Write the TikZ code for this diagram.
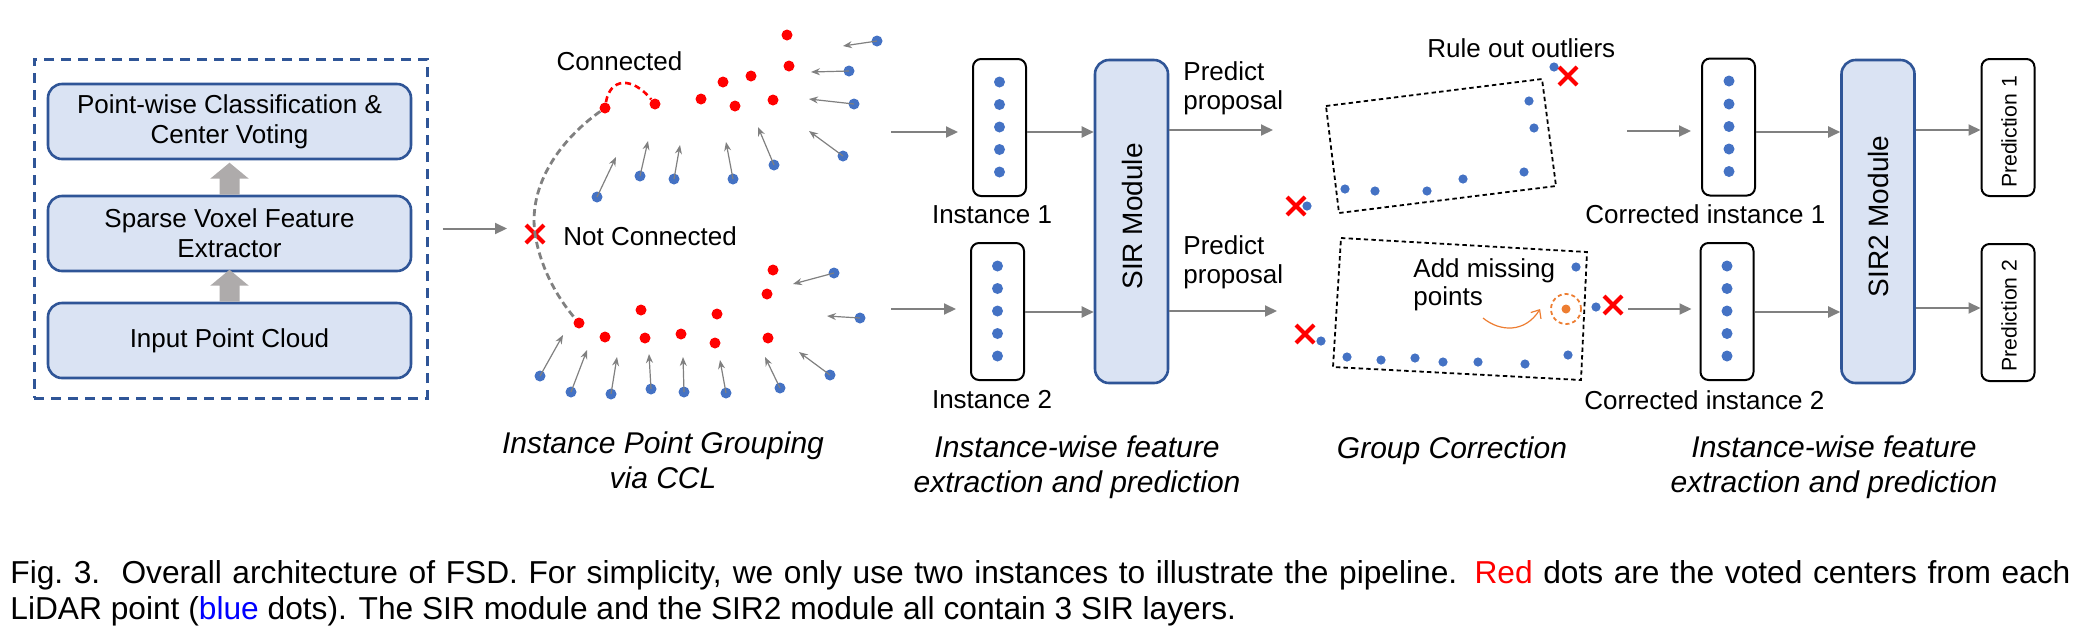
\documentclass[tikz,border=0pt]{standalone}
\usepackage{fontspec}
\setmainfont{Liberation Sans}
\usetikzlibrary{arrows.meta,shapes.misc}
\definecolor{stagefill}{HTML}{DAE3F3}
\definecolor{stageline}{HTML}{2F5597}
\definecolor{liftgray}{HTML}{AEABAB}
\definecolor{flowgray}{HTML}{808080}
\definecolor{ptblue}{HTML}{4472C4}
\definecolor{ptred}{HTML}{FF0000}
\definecolor{fillorange}{HTML}{ED7D31}
\begin{document}
\begin{tikzpicture}[x=0.5pt,y=-0.5pt,
  every node/.style={font=\fontsize{13}{15}\selectfont,inner sep=0pt},
  stage/.style={draw=stageline,fill=stagefill,line width=1.3pt,rounded corners=7pt,
    minimum width=181.5pt,minimum height=37.5pt,align=center},
  module/.style={draw=stageline,fill=stagefill,line width=1.3pt,rounded corners=7pt,
    minimum width=36.5pt,minimum height=161.5pt},
  slot/.style={draw=black,line width=1pt,rounded corners=4pt,minimum width=26.5pt,minimum height=68.5pt},
  bdot/.style={circle,fill=ptblue,minimum size=5.5pt},
  rdot/.style={circle,fill=ptred,minimum size=5.5pt},
  gdot/.style={circle,fill=ptblue,minimum size=4.6pt},
  reject/.style={cross out,draw=ptred,line width=2pt,minimum size=7pt},
  flow/.style={flowgray,line width=1pt,-{Triangle[width=5.5pt,length=6pt]}},
  pull/.style={flowgray,line width=0.6pt,-{Stealth[width=3.5pt,length=4.5pt,inset=1.5pt]}},
  corrbox/.style={draw=black,line width=0.9pt,dash pattern=on 2.2pt off 1.6pt},
  stagelabel/.style={font=\fontsize{15}{17.5}\selectfont\itshape,align=center,anchor=north},
  sidelabel/.style={rotate=90,font=\fontsize{14}{16}\selectfont}]
  \useasboundingbox (0,0) rectangle (2083,634);

  \node[draw=stageline,line width=1.5pt,dash pattern=on 5pt off 3.5pt,
    minimum width=196.5pt,minimum height=169.5pt] (backbone) at (230.5,228.5) {};
  \node[stage] (cloud) at (229.5,340.5) {Input Point Cloud};
  \node[stage] (voxel) at (229.5,233.5) {Sparse Voxel Feature\\Extractor};
  \node[stage] (vote) at (229.5,121.5) {Point-wise Classification \&\\Center Voting};
  \foreach \a in {cloud,voxel} {
    \fill[liftgray] (\a.north) ++(-10,0) -- ++(0,-16) -- ++(-9.3,0) -- ++(19.3,-16)
      -- ++(19.3,16) -- ++(-9.3,0) -- ++(0,16) -- cycle;
  }
  \coordinate (ccl in) at (507,228.5);
  \draw[flow] ([xshift=7pt]backbone.east) -- (ccl in);

  \foreach \x/\y [count=\k] in {787/35,789/66,751/76,723/82,701/99,735/106,773/100,655/104,605/108} {
    \node[rdot] (t\k) at (\x,\y) {};
  }
  \foreach \x/\y/\tx/\ty [count=\k] in {877/41/843/46,849/71/811/72,854/104/809/99,843/156/809/131,
      774/165/758/127,733/179/726/142,674/179/680/145,640/176/648/141,597/197/616/157} {
    \node[bdot] (tu\k) at (\x,\y) {};
    \coordinate (tv\k) at (\tx,\ty);
    \draw[pull] (tu\k.center) -- (tv\k);
  }
  \foreach \x/\y [count=\k] in {773/270,767/294,641/310,717/314,579/323,605/337,645/338,681/334,715/343,768/338} {
    \node[rdot] (b\k) at (\x,\y) {};
  }
  \foreach \x/\y/\tx/\ty [count=\k] in {834/273/793/284,860/318/827/316,830/375/799/352,780/388/765/357,
      726/393/720/360,684/392/683/357,651/389/649/354,611/394/617/357,571/392/587/350,540/376/563/335} {
    \node[bdot] (bu\k) at (\x,\y) {};
    \coordinate (bv\k) at (\tx,\ty);
    \draw[pull] (bu\k.center) -- (bv\k);
  }
  \node[reject] (cut) at (535,234) {};
  \draw[flowgray,line width=1.4pt,dash pattern=on 3.5pt off 2pt]
    (t9) .. controls (560,140) and (528,185) .. (cut.center) .. controls (540,265) and (555,295) .. (b5);
  \draw[ptred,line width=1.3pt,dash pattern=on 3pt off 2pt] (t9) .. controls (610,78) and (632,76) .. (t8);
  \node[anchor=base] (conn) at (619.5,70) {Connected};
  \node[anchor=base west] (notconn) at (563,245) {Not Connected};

  \coordinate (in1) at (891,132);
  \coordinate (in2) at (891,309);
  \node[slot] (inst1) at (999.5,127.5) {};
  \node[slot] (inst2) at (997.5,311.5) {};
  \foreach \y [count=\k] in {82,104.5,127,149.5,172} {
    \node[bdot] (ia\k) at (999.5,\y) {};
  }
  \foreach \y [count=\k] in {266,288.5,311,333.5,356} {
    \node[bdot] (ib\k) at (997.5,\y) {};
  }
  \node[anchor=base] (inst1 lbl) at (992,223) {Instance 1};
  \node[anchor=base] (inst2 lbl) at (992,408) {Instance 2};
  \node[module] (sir) at (1131.5,221.5) {};
  \node[sidelabel] (sir lbl) at (1132,216.5) {SIR Module};
  \draw[flow] (in1) -- ([xshift=-7pt]in1 -| inst1.west);
  \draw[flow] (in2) -- ([xshift=-7pt]in2 -| inst2.west);
  \draw[flow] (inst1.east |- in1) -- (in1 -| sir.west);
  \draw[flow] (inst2.east |- 0,312) -- (sir.west |- 0,312);
  \coordinate (out1) at (1273,130);
  \coordinate (out2) at (1277,311);
  \draw[flow] (sir.east |- out1) -- (out1);
  \draw[flow] (sir.east |- out2) -- (out2);
  \node[anchor=north west,align=left,font=\fontsize{13}{14.5}\selectfont] (prop1) at (1183,61.5) {Predict\\proposal};
  \node[anchor=north west,align=left,font=\fontsize{13}{14.5}\selectfont] (prop2) at (1183,235.5) {Predict\\proposal};

  \draw[corrbox] (1326,106) -- (1542,79) -- (1556,186) -- (1339,213) -- cycle;
  \draw[corrbox] (1341,238) -- (1587,252) -- (1581,380) -- (1333,367) -- cycle;
  \foreach \x/\y [count=\k] in {1529/101,1534/128,1524/172,1463/179,1427/191,1375/191,1345/189} {
    \node[gdot] (ga\k) at (\x,\y) {};
  }
  \foreach \x/\y [count=\k] in {1576/267,1568/355,1525/364,1478/362,1443/362,1415/358,1381/360,1347/357} {
    \node[gdot] (gb\k) at (\x,\y) {};
  }
  \foreach \x/\y/\rx/\ry [count=\k] in {1554/67/1568/76,1307/206/1296/206,1321/341/1305/334,1596/307/1613/305} {
    \node[gdot] (go\k) at (\x,\y) {};
    \node[reject] (gx\k) at (\rx,\ry) {};
  }
  \node[anchor=base west] (outl) at (1427,57) {Rule out outliers};
  \node[circle,draw=fillorange,line width=0.9pt,dash pattern=on 2pt off 1.5pt,minimum size=15pt] (miss) at (1566,309) {};
  \node[circle,fill=fillorange,minimum size=4.5pt] (miss dot) at (1566,309) {};
  \coordinate (miss from) at (1483,318);
  \draw[fillorange,line width=0.6pt,-{Straight Barb[length=3.5pt,width=6pt]}]
    (miss from) .. controls (1500,332) and (1525,333) .. ([xshift=-5pt]miss.west);
  \node[anchor=north west,align=left,font=\fontsize{13}{14}\selectfont] (addm) at (1413,258.5) {Add missing\\points};

  \coordinate (gc1) at (1627,131);
  \coordinate (gc2) at (1628,309);
  \node[slot] (cinst1) at (1728.5,127) {};
  \node[slot] (cinst2) at (1727,311.5) {};
  \foreach \y [count=\k] in {81,104,126.5,149,171.5} {
    \node[bdot] (ca\k) at (1729,\y) {};
  }
  \foreach \y [count=\k] in {266,288.5,311,333.5,356} {
    \node[bdot] (cb\k) at (1727,\y) {};
  }
  \node[anchor=base west] (cinst1 lbl) at (1585,223) {Corrected instance 1};
  \node[anchor=base west] (cinst2 lbl) at (1584,409) {Corrected instance 2};
  \node[module] (sir2) at (1878,221.5) {};
  \node[sidelabel] (sir2 lbl) at (1878,216.5) {SIR2 Module};
  \draw[flow] (gc1) -- ([xshift=-5pt]gc1 -| cinst1.west);
  \draw[flow] (gc2) -- ([xshift=-4pt]gc2 -| cinst2.west);
  \draw[flow] (cinst1.east |- 0,132) -- (sir2.west |- 0,132);
  \draw[flow] (cinst2.east |- 0,312) -- (sir2.west |- 0,312);
  \node[slot] (pred1) at (2008,127.5) {};
  \node[slot] (pred2) at (2008,312.5) {};
  \node[sidelabel,font=\fontsize{10.6}{12}\selectfont] (pred1 lbl) at (2009,132) {Prediction 1};
  \node[sidelabel,font=\fontsize{10.6}{12}\selectfont] (pred2 lbl) at (2009,315.5) {Prediction 2};
  \draw[flow] (sir2.east |- 0,130) -- (pred1.west |- 0,130);
  \draw[flow] (sir2.east |- 0,308) -- (pred2.west |- 0,308);

  \node[stagelabel] (ccl lbl) at (663,431.5) {Instance Point Grouping\\via CCL};
  \node[stagelabel] (feat lbl) at (1077,435.5) {Instance-wise feature\\extraction and prediction};
  \node[stagelabel] (corr lbl) at (1452,436.5) {Group Correction};
  \node[stagelabel] (feat2 lbl) at (1834,435.5) {Instance-wise feature\\extraction and prediction};

  \node[anchor=base west,font=\fontsize{15.85}{19}\selectfont] (cap1) at (10,583)
    {\makebox[1030pt][s]{Fig.~3.\ \ Overall architecture of FSD. For simplicity, we only use two instances to illustrate the pipeline. \textcolor{red}{Red} dots are the voted centers from each}};
  \node[anchor=base west,font=\fontsize{15.85}{19}\selectfont] (cap2) at (10,619)
    {LiDAR point (\textcolor{blue}{blue} dots). The SIR module and the SIR2 module all contain 3 SIR layers.};
\end{tikzpicture}
\end{document}
